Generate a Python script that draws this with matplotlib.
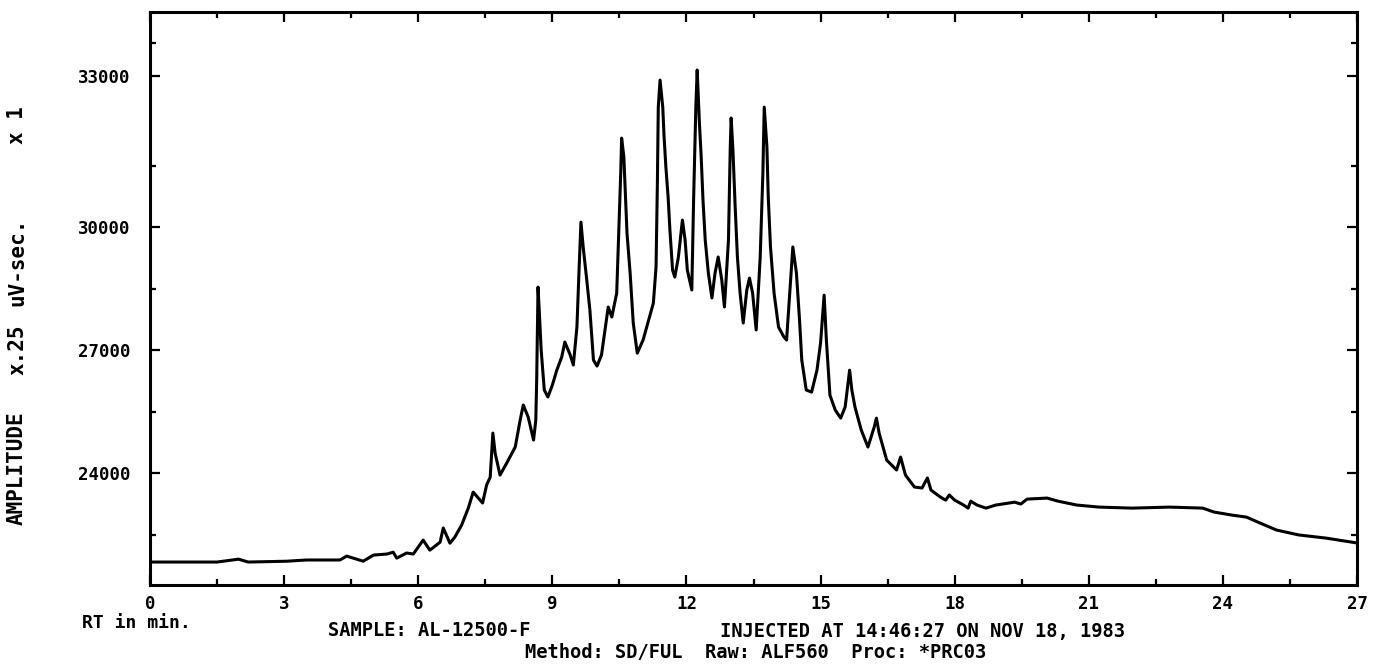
import matplotlib
matplotlib.use("Agg")
import matplotlib.pyplot as plt

# ---- data ----
rt_min = [0.0, 1.5, 1.98, 2.2, 3.06, 3.5, 4.25, 4.40, 4.77, 5.0, 5.3, 5.44, 5.52, 5.74, 5.89,
          6.11, 6.26, 6.49, 6.56, 6.71, 6.82, 6.97, 7.12, 7.23, 7.44, 7.53, 7.61, 7.67, 7.72,
          7.83, 7.98, 8.17, 8.28, 8.35, 8.46, 8.58, 8.63, 8.65, 8.68, 8.71, 8.75, 8.82, 8.9,
          9.0, 9.1, 9.21, 9.28, 9.40, 9.47, 9.55, 9.60, 9.64, 9.69, 9.77, 9.84, 9.92, 10.0,
          10.1, 10.25, 10.33, 10.44, 10.48, 10.53, 10.55, 10.6, 10.63, 10.67, 10.74, 10.81,
          10.90, 11.03, 11.26, 11.32, 11.35, 11.37, 11.41, 11.47, 11.5, 11.54, 11.59, 11.63,
          11.69, 11.74, 11.82, 11.91, 11.97, 12.02, 12.12, 12.16, 12.21, 12.24, 12.29, 12.33,
          12.37, 12.42, 12.49, 12.57, 12.64, 12.71, 12.79, 12.85, 12.94, 12.98, 13.0, 13.04,
          13.09, 13.14, 13.2, 13.27, 13.35, 13.41, 13.48, 13.56, 13.65, 13.71, 13.74, 13.8,
          13.83, 13.88, 13.96, 14.06, 14.18, 14.24, 14.32, 14.38, 14.46, 14.53, 14.58, 14.68,
          14.80, 14.92, 15.0, 15.08, 15.13, 15.21, 15.33, 15.45, 15.55, 15.65, 15.7, 15.77,
          15.91, 16.06, 16.2, 16.25, 16.31, 16.48, 16.7, 16.79, 16.9, 17.1, 17.27, 17.39,
          17.47, 17.68, 17.8, 17.88, 18.0, 18.2, 18.3, 18.36, 18.5, 18.7, 18.92, 19.34, 19.48,
          19.62, 20.07, 20.31, 20.73, 21.23, 21.97, 22.8, 23.55, 23.8, 24.2, 24.53, 24.78,
          25.2, 25.7, 26.3, 27.0]

amplitude = [21830, 21830, 21900, 21830, 21850, 21880, 21880, 21975, 21850, 22000, 22025,
             22070, 21925, 22050, 22025, 22365, 22120, 22315, 22660, 22290, 22440, 22730,
             23145, 23535, 23270, 23710, 23900, 24975, 24490, 23950, 24245, 24635, 25290,
             25660, 25365, 24805, 25290, 26270, 28535, 27900, 27000, 26025, 25855, 26145,
             26510, 26830, 27195, 26880, 26635, 27560, 29025, 30120, 29515, 28710, 27975,
             26755, 26610, 26880, 28050, 27805, 28390, 29685, 31320, 32170, 31710, 30900,
             29855, 28880, 27660, 26925, 27245, 28145, 29025, 31075, 32925, 33585, 32925,
             32195, 31465, 30730, 29930, 28950, 28780, 29270, 30170, 29685, 28950, 28465,
             30660, 32925, 33830, 32535, 31710, 30660, 29685, 28880, 28270, 28880, 29270,
             28710, 28050, 29685, 31950, 32660, 31880, 30490, 29270, 28390, 27660, 28465,
             28755, 28390, 27490, 29270, 31320, 32925, 31950, 30730, 29515, 28390, 27560,
             27320, 27245, 28535, 29515, 28880, 27730, 26755, 26025, 25975, 26510, 27170,
             28340, 27245, 25900, 25535, 25340, 25610, 26510, 26025, 25610, 25050, 24635,
             25120, 25340, 24975, 24315, 24075, 24390, 23950, 23660, 23635, 23880, 23585,
             23415, 23340, 23465, 23340, 23220, 23145, 23315, 23220, 23145, 23220, 23290,
             23245, 23365, 23390, 23315, 23220, 23170, 23145, 23170, 23145, 23050, 22975,
             22925, 22805, 22610, 22490, 22415, 22295]

x_major = [0, 3, 6, 9, 12, 15, 18, 21, 24, 27]
x_labels = ["0", "3", "6", "9", "12", "15", "18", "21", "24", "27"]
x_minor = [1.5, 4.5, 7.5, 10.5, 13.5, 16.5, 19.5, 22.5, 25.5]
y_major = [24000, 27000, 30000, 33680]
y_labels = ["24000", "27000", "30000", "33000"]
y_minor = [22500, 25500, 28500, 31500, 34500]
ylabel_parts = ["AMPLITUDE", "x.25", "uV-sec.", "x 1"]

W, H = 1375, 667
FONT = "DejaVu Sans Mono"

fig = plt.figure(figsize=(W / 100, H / 100), dpi=100)
ax = fig.add_axes([150 / W, 1 - 585 / H, (1357 - 150) / W, (585 - 12) / H])

ax.plot(rt_min, amplitude, color="black", lw=2.2, solid_joinstyle="round")
ax.set_xlim(0, 27)
ax.set_ylim(21270, 35245)

ax.set_xticks(x_major)
ax.set_xticklabels(x_labels)
ax.set_xticks(x_minor, minor=True)
ax.set_yticks(y_major)
ax.set_yticklabels(y_labels)
ax.set_yticks(y_minor, minor=True)

ax.tick_params(which="both", direction="in", top=True, right=True, width=1.6, color="black")
ax.tick_params(which="major", length=7)
ax.tick_params(which="minor", length=4)
ax.tick_params(axis="x", which="major", pad=7)
ax.tick_params(axis="y", which="major", pad=14)
for lab in ax.get_xticklabels() + ax.get_yticklabels():
    lab.set_fontfamily(FONT)
    lab.set_fontweight("bold")
    lab.set_fontsize(12.5)
for sp in ax.spines.values():
    sp.set_linewidth(2.2)

def ftext(px, py, s, **kw):
    fig.text(px / W, 1 - py / H, s, family=FONT, fontweight="bold", **kw)

ftext(82, 623, "RT in min.", fontsize=13, ha="left", va="center")
ftext(429, 631, "SAMPLE: AL-12500-F", fontsize=13.5, ha="center", va="center")
ftext(923, 631, "INJECTED AT 14:46:27 ON NOV 18, 1983", fontsize=13.5, ha="center", va="center")
ftext(756, 653, "Method: SD/FUL  Raw: ALF560  Proc: *PRC03", fontsize=13.5, ha="center", va="center")

# vertical amplitude label, drawn word by word (wide plotter spacing)
ylabel_centers = [468, 350, 262, 125]
for word, cy in zip(ylabel_parts, ylabel_centers):
    ftext(17, cy, word, fontsize=15, rotation=90, ha="center", va="center")

fig.savefig("out.png", dpi=100)
